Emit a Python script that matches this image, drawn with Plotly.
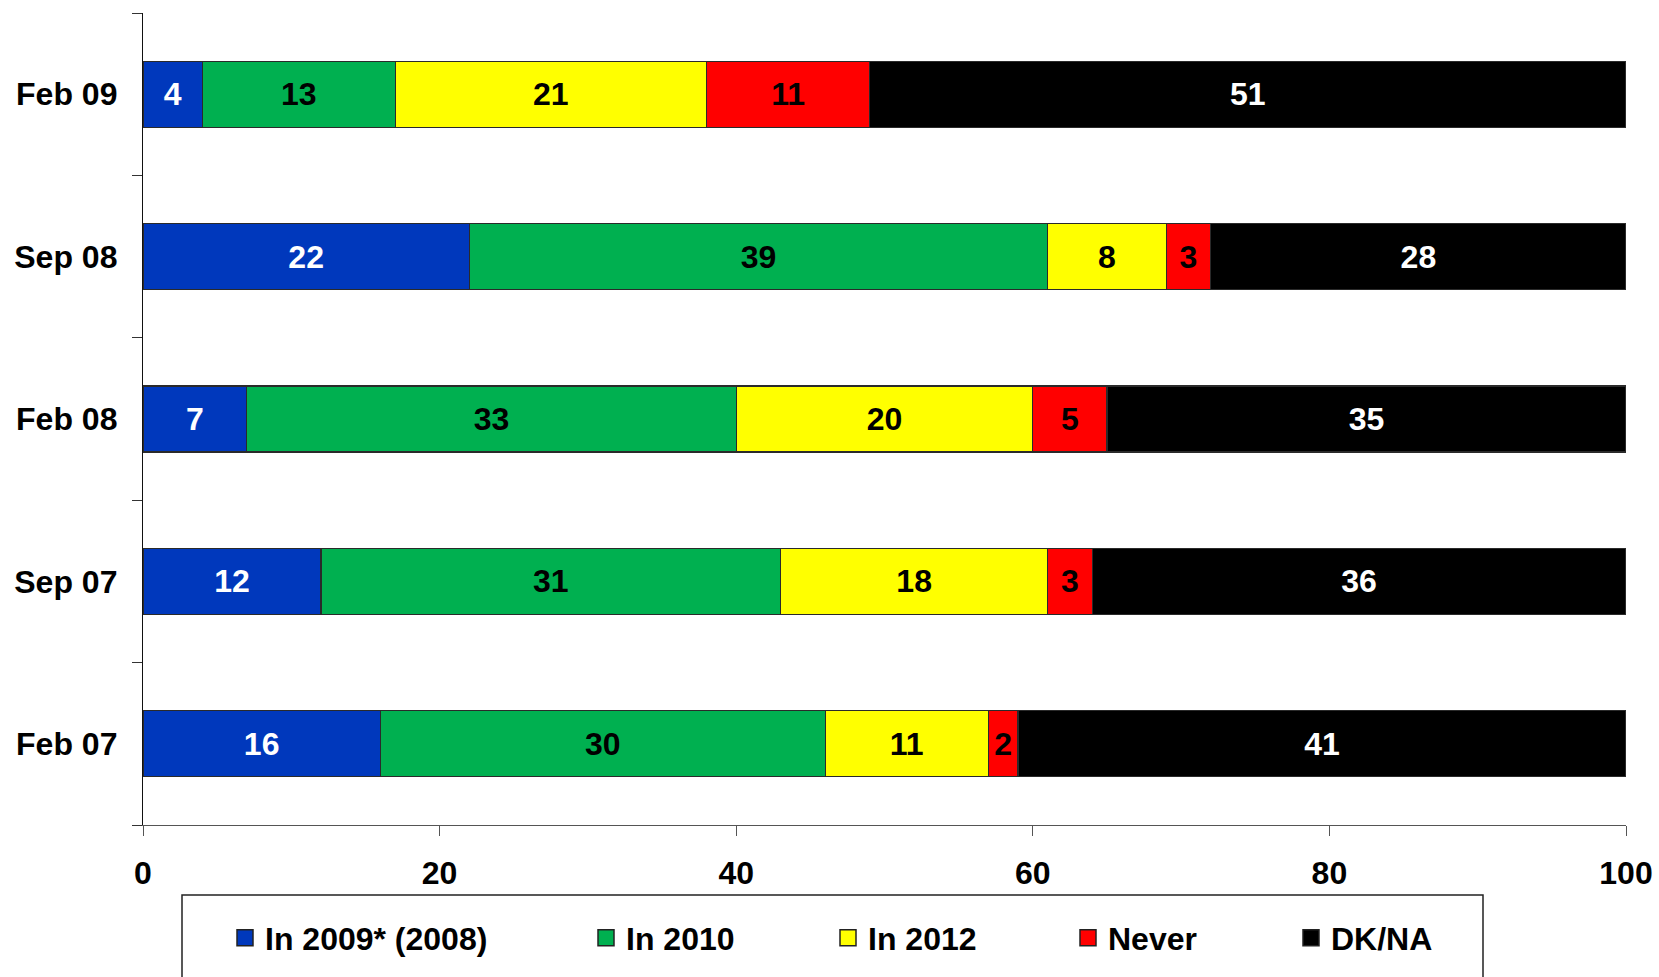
import plotly.graph_objects as go

# Survey waves (bottom to top) and answer shares in percent
periods = ["Feb 07", "Sep 07", "Feb 08", "Sep 08", "Feb 09"]
series_names = ["In 2009* (2008)", "In 2010", "In 2012", "Never", "DK/NA"]
in_2009 = [16, 12, 7, 22, 4]
in_2010 = [30, 31, 33, 39, 13]
in_2012 = [11, 18, 20, 8, 21]
never = [2, 3, 5, 3, 11]
dk_na = [41, 36, 35, 28, 51]
x_ticks = [0, 20, 40, 60, 80, 100]

series_values = [in_2009, in_2010, in_2012, never, dk_na]
colors = ["#0038BC", "#00B050", "#FFFF00", "#FF0000", "#000000"]
text_colors = ["white", "black", "black", "black", "white"]

# Page geometry (pixels)
W, H = 1659, 977
M_L, M_R, M_T, M_B = 143, 33, 13, 152
PW = W - M_L - M_R
PH = H - M_T - M_B


def paper_x(px):
    return (px - M_L) / PW


def paper_y(py):
    return (H - M_B - py) / PH


FONT = "Liberation Sans, Arial, sans-serif"

# Left edge of each legend entry and vertical centre of the legend row
legend_left_px = [225, 586, 828, 1068, 1291]
legend_mid_px = 938

fig = go.Figure()
for i, (name, vals) in enumerate(zip(series_names, series_values)):
    fig.add_trace(go.Bar(
        y=periods,
        x=vals,
        name=name,
        orientation="h",
        marker=dict(color=colors[i], line=dict(color="#2a2a2a", width=1.2)),
        text=vals,
        texttemplate="%{x}",
        textposition="inside",
        insidetextanchor="middle",
        constraintext="none",
        textangle=0,
        insidetextfont=dict(family=FONT, size=32, color=text_colors[i], weight="bold"),
        showlegend=False,
        hoverinfo="skip",
    ))

# Legend keys: square swatches, one legend box per series
for i, name in enumerate(series_names):
    legend_id = "legend" if i == 0 else f"legend{i + 1}"
    fig.add_trace(go.Scatter(
        x=[None],
        y=[None],
        mode="markers",
        name=name,
        marker=dict(symbol="square", size=16, color=colors[i],
                    line=dict(color="#222222", width=1.5)),
        legend=legend_id,
        hoverinfo="skip",
    ))

layout_legends = {}
for i, left in enumerate(legend_left_px):
    key = "legend" if i == 0 else f"legend{i + 1}"
    layout_legends[key] = dict(
        xref="container",
        yref="container",
        x=left / W,
        xanchor="left",
        y=1 - legend_mid_px / H,
        yanchor="middle",
        orientation="h",
        bgcolor="rgba(0,0,0,0)",
        borderwidth=0,
        font=dict(family=FONT, size=32, color="black", weight="bold"),
        itemclick=False,
        itemdoubleclick=False,
    )

fig.update_layout(
    width=W,
    height=H,
    margin=dict(l=M_L, r=M_R, t=M_T, b=M_B, pad=0),
    barmode="stack",
    bargap=0.593,
    plot_bgcolor="white",
    paper_bgcolor="white",
    showlegend=True,
    font=dict(family=FONT, size=32, color="black"),
    xaxis=dict(
        range=[0, 100],
        tickvals=x_ticks,
        ticks="outside",
        ticklen=10,
        tickwidth=1.3,
        tickcolor="#555555",
        showline=True,
        linecolor="#555555",
        linewidth=1.3,
        showgrid=False,
        zeroline=False,
        tickfont=dict(family=FONT, size=32, color="black", weight="bold"),
        ticklabelstandoff=9,
        automargin=False,
        fixedrange=True,
    ),
    yaxis=dict(
        type="category",
        categoryorder="array",
        categoryarray=periods,
        ticks="outside",
        tickson="boundaries",
        ticklen=10,
        tickwidth=1.3,
        tickcolor="#333333",
        showline=True,
        linecolor="#111111",
        linewidth=1.3,
        showgrid=False,
        zeroline=False,
        tickfont=dict(family=FONT, size=32, color="black", weight="bold"),
        ticklabelstandoff=18,
        automargin=False,
        fixedrange=True,
    ),
    shapes=[dict(
        type="rect",
        xref="paper",
        yref="paper",
        x0=paper_x(182),
        x1=paper_x(1483),
        y0=paper_y(895),
        y1=paper_y(1010),
        line=dict(color="#222222", width=1.5),
        fillcolor="rgba(0,0,0,0)",
        layer="above",
    )],
    **layout_legends,
)

fig.write_html("out.html")
